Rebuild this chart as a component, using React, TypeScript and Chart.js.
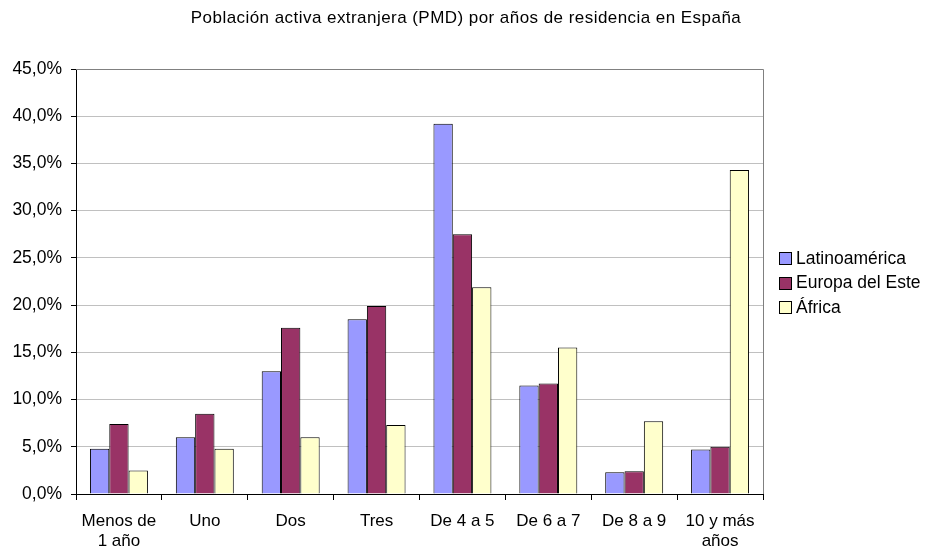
import React, { useEffect, useRef } from "react";
import { Chart, registerables } from "chart.js";

Chart.register(...registerables);

const chartTitle = "Población activa extranjera (PMD) por años de residencia en España";
const categories: (string | string[])[] = [
  ["Menos de", "1 año"],
  "Uno",
  "Dos",
  "Tres",
  "De 4 a 5",
  "De 6 a 7",
  "De 8 a 9",
  ["10 y más", "años"],
];
const seriesNames = ["Latinoamérica", "Europa del Este", "África"];
const latinoamerica = [4.8, 6.0, 13.0, 18.5, 39.2, 11.5, 2.3, 4.7];
const europaEste = [7.4, 8.5, 17.6, 19.9, 27.5, 11.7, 2.4, 5.0];
const africa = [2.5, 4.8, 6.0, 7.3, 21.9, 15.5, 7.7, 34.3];
const seriesColors = ["#9999FF", "#993366", "#FFFFCC"];
const yMax = 45;
const yStep = 5;

const FONT = '"Liberation Sans", Arial, sans-serif';

const decorPlugin = {
  id: "decor",
  beforeDatasetsDraw(chart: any) {
    const { ctx, chartArea: a } = chart;
    ctx.save();
    ctx.strokeStyle = "#808080";
    ctx.lineWidth = 1;
    ctx.beginPath();
    ctx.moveTo(a.left, Math.round(a.top) + 0.5);
    ctx.lineTo(Math.round(a.right) + 0.5, Math.round(a.top) + 0.5);
    ctx.lineTo(Math.round(a.right) + 0.5, a.bottom);
    ctx.stroke();
    ctx.restore();
  },
  afterDraw(chart: any) {
    const { ctx } = chart;
    ctx.save();
    ctx.fillStyle = "#000";
    ctx.font = `17px ${FONT}`;
    (ctx as any).letterSpacing = "0.45px";
    ctx.textAlign = "center";
    ctx.textBaseline = "middle";
    ctx.fillText(chartTitle, 466, 18.5);
    (ctx as any).letterSpacing = "0px";

    ctx.font = `17.5px ${FONT}`;
    ctx.textAlign = "left";
    const datasets = chart.data.datasets;
    datasets.forEach((ds: any, i: number) => {
      const cy = 258 + i * 24.5;
      ctx.fillStyle = ds.backgroundColor;
      ctx.fillRect(779.5, Math.round(cy - 6) + 0.5, 12, 12);
      ctx.strokeStyle = "#000";
      ctx.lineWidth = 1;
      ctx.strokeRect(779.5, Math.round(cy - 6) + 0.5, 12, 12);
      ctx.fillStyle = "#000";
      ctx.fillText(ds.label, 796, cy + 1);
    });
    ctx.restore();
  },
};

export default function App() {
  const ref = useRef<HTMLCanvasElement>(null);
  useEffect(() => {
    if (!ref.current) return;
    const seriesData = [latinoamerica, europaEste, africa];
    const chart = new Chart(ref.current, {
      type: "bar",
      data: {
        labels: categories,
        datasets: seriesNames.map((name, i) => ({
          label: name,
          data: seriesData[i],
          backgroundColor: seriesColors[i],
          borderColor: "#000",
          borderWidth: 1,
          categoryPercentage: 0.675,
          barPercentage: 1,
        })),
      },
      options: {
        animation: false,
        responsive: false,
        maintainAspectRatio: false,
        layout: { padding: { left: 0, top: 69, right: 163, bottom: 0 } },
        plugins: {
          legend: { display: false },
          title: { display: false },
          tooltip: { enabled: false },
        },
        scales: {
          x: {
            grid: {
              offset: true,
              drawOnChartArea: false,
              drawTicks: true,
              tickLength: 6,
              tickColor: "#000",
            },
            border: { color: "#000", width: 1 },
            ticks: {
              color: "#000",
              font: { family: FONT, size: 17, lineHeight: 1.15 },
              padding: 12,
              maxRotation: 0,
              autoSkip: false,
            },
            afterFit(scale: any) {
              scale.height = 58;
            },
          },
          y: {
            min: 0,
            max: yMax,
            grid: {
              color: "#C0C0C0",
              tickColor: "#000",
              tickLength: 5,
            },
            border: { color: "#000", width: 1 },
            ticks: {
              stepSize: yStep,
              color: "#000",
              font: { family: FONT, size: 17.5 },
              padding: 9,
              callback: (v: any) => Number(v).toFixed(1).replace(".", ",") + "%",
            },
            afterFit(scale: any) {
              scale.width = 76;
            },
          },
        },
      },
      plugins: [decorPlugin],
    });
    return () => chart.destroy();
  }, []);
  return (
    <div style={{ position: "fixed", left: 0, top: 0, width: 926, height: 552, background: "#fff" }}>
      <canvas ref={ref} width={926} height={552} style={{ width: 926, height: 552, display: "block" }} />
    </div>
  );
}
